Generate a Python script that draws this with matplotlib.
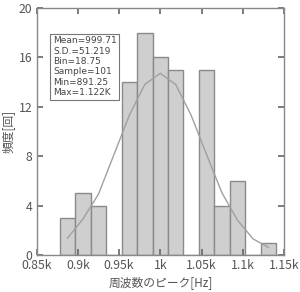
import matplotlib.pyplot as plt
plt.rcParams['font.family'] = ['Noto Sans CJK JP', 'DejaVu Sans']

# ヒストグラム (階級幅 18.75)
bin_start = 878.0
bin_width = 18.75
counts = [3, 5, 4, 0, 14, 18, 16, 15, 0, 15, 4, 6, 0, 1]
# 近似曲線 (各階級中央での値, 図から読み取り)
fit_y = [1.35, 2.9, 4.9, 8.1, 11.3, 13.8, 14.7, 13.8, 11.3, 8.1, 5.0, 2.8, 1.3, 0.6]
stats = ['Mean=999.71', 'S.D.=51.219', 'Bin=18.75', 'Sample=101', 'Min=891.25', 'Max=1.122K']
xticks = [850, 900, 950, 1000, 1050, 1100, 1150]
xlabels = ['0.85k', '0.9k', '0.95k', '1k', '1.05k', '1.1k', '1.15k']
yticks = [0, 4, 8, 12, 16, 20]

edges = [bin_start + i * bin_width for i in range(len(counts))]
centers = [e + bin_width / 2 for e in edges]

fig = plt.figure(figsize=(3.0, 2.92), dpi=100)
ax = fig.add_axes([0.122, 0.127, 0.825, 0.846])

ax.bar(edges, counts, width=bin_width, align='edge', color='#cfcfcf',
       edgecolor='#8a8a8a', linewidth=1.0)
ax.plot(centers, fit_y, color='#a0a0a0', linewidth=1.0)

ax.set_xlim(850, 1150)
ax.set_ylim(0, 20)
ax.set_xticks(xticks)
ax.set_xticklabels(xlabels)
ax.set_yticks(yticks)
ax.tick_params(direction='in', top=True, right=True, length=4, width=1.2,
               color='#666666', labelcolor='#555555', labelsize=8.8)
ax.tick_params(axis='x', pad=3)
ax.tick_params(axis='y', pad=3)
for s in ax.spines.values():
    s.set_color('#888888')
    s.set_linewidth(1.0)

ax.set_xlabel('周波数のピーク[Hz]', fontsize=8.5, color='#555555', labelpad=3)
ax.set_ylabel('頻度[回]', fontsize=8.5, color='#555555', labelpad=3)

ax.text(0.066, 0.885, '\n'.join(stats), transform=ax.transAxes, fontsize=6.5,
        color='#444444', va='top', ha='left', linespacing=1.2,
        family=['DejaVu Sans'],
        bbox=dict(boxstyle='square,pad=0.3', facecolor='white', edgecolor='#777777', linewidth=0.8))

fig.savefig('out.png', dpi=100)
